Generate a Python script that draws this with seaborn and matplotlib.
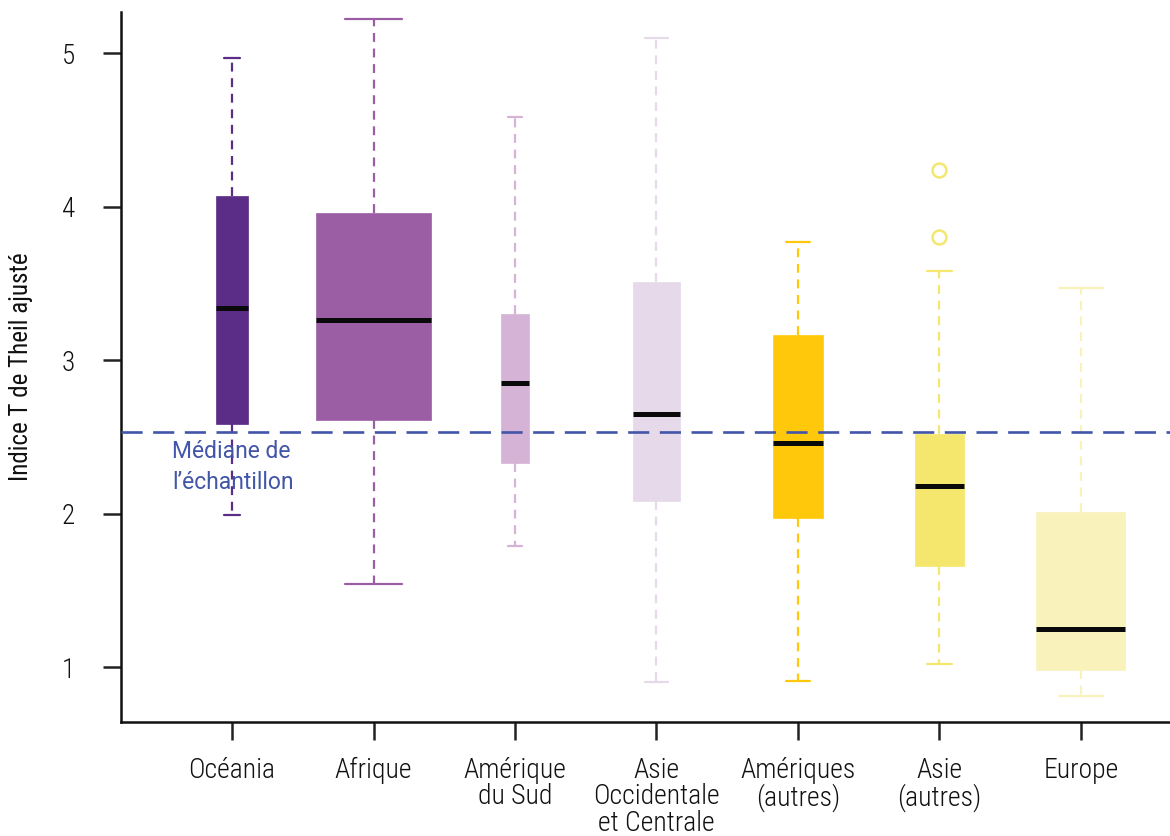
import matplotlib
matplotlib.use("Agg")
import matplotlib.pyplot as plt
import seaborn as sns

# Regions (x axis) and their summary statistics of the adjusted Theil T index
regions = ["Océania", "Afrique", "Amérique\ndu Sud", "Asie\nOccidentale\net Centrale",
           "Amériques\n(autres)", "Asie\n(autres)", "Europe"]
q1 = [2.58, 2.61, 2.33, 2.08, 1.97, 1.66, 0.98]
medians = [3.34, 3.26, 2.85, 2.65, 2.46, 2.18, 1.25]
q3 = [4.07, 3.96, 3.30, 3.51, 3.16, 2.52, 2.01]
whisker_low = [1.99, 1.54, 1.79, 0.90, 0.91, 1.02, 0.81]
whisker_high = [4.97, 5.22, 4.58, 5.10, 3.77, 3.58, 3.47]
outliers = [[], [], [], [], [], [4.24, 3.80], []]
sample_median = 2.53

# Drawing style: box widths (proportional to group size) and colours
box_widths = [0.23, 0.81, 0.20, 0.33, 0.35, 0.35, 0.63]
colors = ["#5B2D86", "#9B5EA5", "#D5B3D6", "#E5D9EA", "#FFC80A", "#F5E76E", "#FAF2BB"]
blue = "#4255A8"

sns.set_theme(style="ticks")
plt.rcParams["font.family"] = ["Roboto Condensed", "Roboto", "DejaVu Sans"]
plt.rcParams["font.weight"] = "light"

fig = plt.figure(figsize=(11.7, 8.36), dpi=100)
ax = fig.add_axes([0.1034, 0.1364, 0.8966, 0.8492])

stats = []
for i, lab in enumerate(regions):
    stats.append(dict(label=lab, med=medians[i], q1=q1[i], q3=q3[i],
                      whislo=whisker_low[i], whishi=whisker_high[i],
                      fliers=outliers[i]))

positions = list(range(len(regions)))
res = ax.bxp(stats, positions=positions, widths=box_widths,
             capwidths=[w * 0.5 for w in box_widths],
             patch_artist=True, showfliers=True, manage_ticks=False)

for i, c in enumerate(colors):
    box = res["boxes"][i]
    box.set_facecolor(c)
    box.set_edgecolor(c)
    box.set_linewidth(0.5)
    box.set_zorder(2)
    med = res["medians"][i]
    med.set_color("#0A0A0A")
    med.set_linewidth(3.6)
    med.set_solid_capstyle("butt")
    med.set_zorder(3)
    for w in res["whiskers"][2 * i:2 * i + 2]:
        w.set_color(c)
        w.set_linewidth(1.6)
        w.set_linestyle((0, (4, 3)))
        w.set_zorder(1)
    for cp in res["caps"][2 * i:2 * i + 2]:
        cp.set_color(c)
        cp.set_linewidth(1.6)
        cp.set_zorder(1)
    fl = res["fliers"][i]
    fl.set_marker("o")
    fl.set_markerfacecolor("none")
    fl.set_markeredgecolor(c)
    fl.set_markersize(10)
    fl.set_markeredgewidth(1.8)

# Overall sample median
ax.axhline(sample_median, color=blue, linewidth=1.9, linestyle=(0, (8, 4)), zorder=4)
ax.text(-0.424, 2.48, "Médiane de\nl\u2019échantillon", color=blue, fontsize=16.5,
        ha="left", va="top", linespacing=1.45, zorder=5, fontweight="normal",
        family=["Roboto", "DejaVu Sans"])

ax.set_xlim(-0.785, 6.63)
ax.set_ylim(0.642, 5.267)
ax.set_yticks([1, 2, 3, 4, 5])
ax.set_xticks(positions)
ax.set_xticklabels(regions, linespacing=0.98)
ax.set_ylabel("Indice T de Theil ajusté", fontsize=18, labelpad=21)

ax.tick_params(axis="y", length=13, width=1.8, pad=20, labelsize=19.5, colors="#222222")
ax.tick_params(axis="x", length=13, width=1.8, pad=12, labelsize=20, colors="#222222")
for lab in ax.get_xticklabels() + ax.get_yticklabels():
    lab.set_color("#111111")
    lab.set_fontweight("light")
ax.yaxis.label.set_color("#111111")

for side in ["top", "right"]:
    ax.spines[side].set_visible(False)
for side in ["left", "bottom"]:
    ax.spines[side].set_linewidth(1.8)
    ax.spines[side].set_color("#111111")

fig.savefig("out.png", dpi=100, facecolor="white")
